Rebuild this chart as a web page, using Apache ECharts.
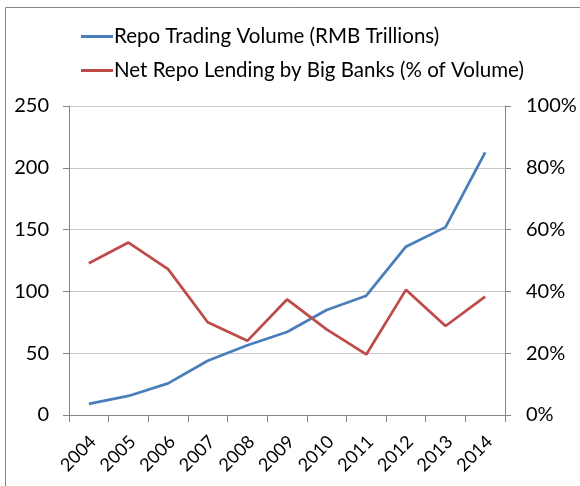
<!DOCTYPE html>
<html>
<head>
<meta charset="utf-8">
<script src="https://cdn.jsdelivr.net/npm/echarts@6/dist/echarts.min.js"></script>
<style>
  html, body { margin: 0; padding: 0; background: #ffffff; }
  #chart { width: 580px; height: 486px; }
</style>
</head>
<body>
<div id="chart"></div>
<script>
// Years on the category axis
const years = ['2004', '2005', '2006', '2007', '2008', '2009', '2010', '2011', '2012', '2013', '2014'];
// Repo trading volume, RMB trillions (left axis)
const repoVolume = [9, 15.4, 25.6, 43.9, 56.4, 67.2, 85, 96.5, 136.2, 152, 212.5];
// Net repo lending by big banks, % of volume (right axis)
const netLendingPct = [49.1, 55.8, 47.2, 30, 24, 37.4, 27.7, 19.6, 40.5, 28.8, 38.3];
// Axis tick values
const leftTicks = [0, 50, 100, 150, 200, 250];
const rightTicks = [0, 20, 40, 60, 80, 100];

const seriesNames = ['Repo Trading Volume (RMB Trillions)', 'Net Repo Lending by Big Banks (% of Volume)'];
const FONT = 'Lato';
const axisGrey = '#868686';
const gridGrey = '#c8c8c8';

const chart = echarts.init(document.getElementById('chart'), null, { renderer: 'canvas' });

chart.setOption({
  backgroundColor: '#ffffff',
  animation: false,
  textStyle: { fontFamily: FONT },
  graphic: [{
    type: 'rect',
    shape: { x: 5.5, y: 7.5, width: 640, height: 540 },
    style: { fill: 'none', stroke: axisGrey, lineWidth: 1 },
    silent: true
  }],
  legend: {
    orient: 'vertical',
    left: 76,
    top: 21,
    itemWidth: 32,
    itemHeight: 3,
    itemGap: 13,
    icon: 'rect',
    textStyle: { fontFamily: FONT, fontSize: 20.5, color: '#000000', padding: [0, 0, 0, -4] },
    data: seriesNames
  },
  grid: { left: 69, right: 75, top: 106, bottom: 71, containLabel: false },
  xAxis: {
    type: 'category',
    data: years,
    boundaryGap: true,
    axisLine: { show: true, lineStyle: { color: axisGrey, width: 1 } },
    axisTick: { show: true, length: 7, lineStyle: { color: axisGrey } },
    axisLabel: { rotate: 45, fontFamily: FONT, fontSize: 18, color: '#000000', margin: 28, interval: 0, padding: [0, -6, 0, 0] },
    splitLine: { show: false }
  },
  yAxis: [{
    type: 'value',
    min: leftTicks[0],
    max: leftTicks[leftTicks.length - 1],
    interval: leftTicks[1] - leftTicks[0],
    axisLine: { show: true, lineStyle: { color: axisGrey, width: 1 } },
    axisTick: { show: true, length: 6, lineStyle: { color: axisGrey } },
    axisLabel: { fontFamily: FONT, fontSize: 20, color: '#000000', margin: 20 },
    splitLine: { show: true, lineStyle: { color: gridGrey, width: 1 } }
  }, {
    type: 'value',
    position: 'right',
    min: rightTicks[0],
    max: rightTicks[rightTicks.length - 1],
    interval: rightTicks[1] - rightTicks[0],
    axisLine: { show: true, lineStyle: { color: axisGrey, width: 1 } },
    axisTick: { show: true, length: 6, lineStyle: { color: axisGrey } },
    axisLabel: { fontFamily: FONT, fontSize: 20, color: '#000000', margin: 21, formatter: '{value}%' },
    splitLine: { show: false }
  }],
  series: [{
    name: seriesNames[0],
    type: 'line',
    yAxisIndex: 0,
    data: repoVolume,
    symbol: 'none',
    lineStyle: { color: '#4a7ebb', width: 2.75 },
    itemStyle: { color: '#4a7ebb' }
  }, {
    name: seriesNames[1],
    type: 'line',
    yAxisIndex: 1,
    data: netLendingPct,
    symbol: 'none',
    lineStyle: { color: '#be4b48', width: 2.75 },
    itemStyle: { color: '#be4b48' }
  }]
});
</script>
</body>
</html>
